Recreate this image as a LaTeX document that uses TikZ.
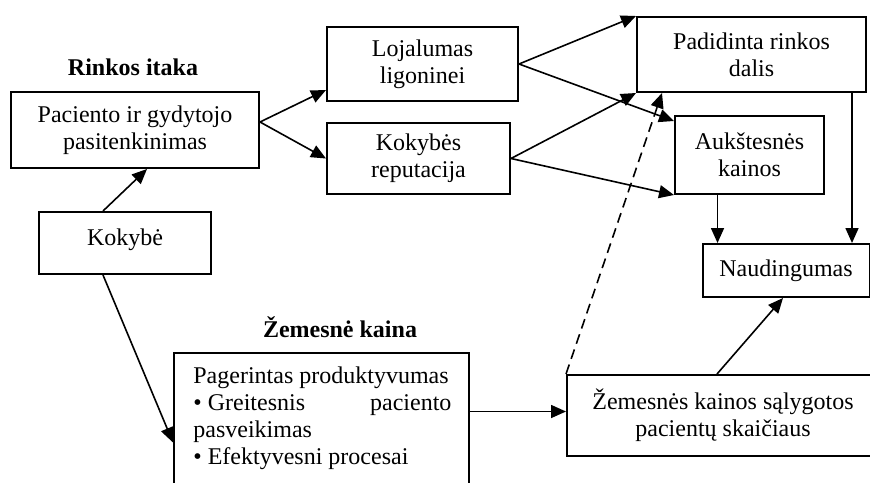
\documentclass[tikz,border=0pt]{standalone}
\usepackage{fontspec}
\setmainfont{Liberation Serif}
\usetikzlibrary{arrows.meta}
\begin{document}
\begin{tikzpicture}[x=0.5pt,y=-0.5pt,
  box/.style={draw,line width=1pt,inner sep=0pt,align=center,font=\fontsize{12}{13.5}\selectfont},
  conn/.style={line width=0.8pt,-{Triangle[length=7.5pt,width=6.5pt]}},
  heading/.style={font=\fontsize{12}{13.5}\selectfont\bfseries}]
\clip (0,0) rectangle (870,482);

% headings
\node[heading] (rinkos) at (133,67) {Rinkos itaka};
\node[heading] (zemk) at (340,327) {Žemesnė kaina};

% boxes
\node[box,minimum width=124pt,minimum height=38pt] (pac) at (135,130) {Paciento ir gydytojo\\pasitenkinimas};
\node[box,minimum width=86pt,minimum height=31pt] (kok) at (125,243) {\raisebox{0pt}[7pt][5pt]{Kokybė}};
\node[box,minimum width=95.5pt,minimum height=37pt] (loj) at (422.5,64) {Lojalumas\\ligoninei};
\node[box,minimum width=91.5pt,minimum height=35.5pt] (rep) at (418.5,158.5) {Kokybės\\reputacija};
\node[box,minimum width=114.5pt,minimum height=37.5pt] (pad) at (751.5,54.5) {Padidinta rinkos\\dalis};
\node[box,minimum width=74.5pt,minimum height=39pt] (auk) at (749.5,155) {Aukštesnės\\kainos};
\node[box,minimum width=83.5pt,minimum height=26.5pt] (naud) at (786,270.5) {Naudingumas};
\node[box,minimum width=156pt,minimum height=40.5pt] (zem) at (723,415.5) {Žemesnės kainos sąlygotos\\pacientų skaičiaus};
\node[box,minimum width=147.5pt,minimum height=73.5pt] (pag) at (321.5,426.5) {};
\node[inner sep=0pt,anchor=north west,align=left,
      font=\fontsize{12}{13.5}\selectfont] (pagtext) at (193,366)
  {Pagerintas produktyvumas\\
   \makebox[129pt][l]{• Greitesnis\hfill paciento}\\
   pasveikimas\\
   • Efektyvesni procesai};

% helper points for the vertical connectors
\coordinate (a1) at ([xshift=-16pt]auk.south);
\coordinate (p1) at ([xshift=50.25pt]pad.south);
\coordinate (g1) at ([yshift=2pt]pag.east |- zem.west);
\coordinate (z1) at ([yshift=2pt]zem.west);

% connectors
\draw[conn] ([xshift=-11pt]kok.north) -- ([xshift=6pt]pac.south);
\draw[conn] ([yshift=4pt]pac.east) -- ([yshift=-13pt]loj.west);
\draw[conn] ([yshift=4pt]pac.east) -- (rep.west);
\draw[conn] (loj.east) -- (pad.north west);
\draw[conn] (loj.east) -- ([yshift=-3pt]auk.north west);
\draw[conn] (rep.east) -- (pad.south west);
\draw[conn] (rep.east) -- (auk.south west);
\draw[conn] (a1) -- (a1 |- naud.north);
\draw[conn] (p1) -- (p1 |- naud.north);
\draw[conn] ([xshift=-3pt]zem.north) -- ([xshift=-1.5pt]naud.south);
\draw[conn] (g1) -- (z1);
\draw[conn] ([xshift=-11pt]kok.south) -- ([yshift=-8pt]pag.west);
\draw[conn,dash pattern=on 5pt off 3pt] (zem.north west) -- ([xshift=13pt]pad.south west);
\end{tikzpicture}
\end{document}
